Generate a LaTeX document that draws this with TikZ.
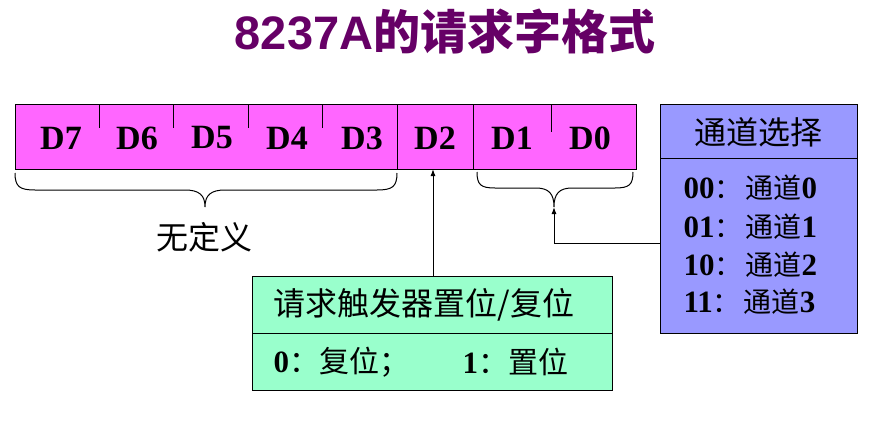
\documentclass[tikz,border=0pt]{standalone}
\usepackage{fontspec}
\setmainfont{Liberation Serif}
\newfontfamily\cjk{Noto Sans CJK SC}
\newfontfamily\titlesans{Liberation Sans}
\usetikzlibrary{arrows.meta}
\definecolor{regfill}{RGB}{255,102,255}
\definecolor{chanfill}{RGB}{153,153,255}
\definecolor{reqfill}{RGB}{153,255,204}
\definecolor{titlecol}{RGB}{102,0,102}
\newcommand{\cjkline}[1]{{\fontsize{28}{28}\selectfont\cjk\mdseries #1}}
\newcommand{\cjkreq}[1]{{\fontsize{30}{30}\selectfont\cjk\mdseries #1}}
\begin{document}
\begin{tikzpicture}[x=1pt,y=-1pt,line width=1pt,
  box/.style={draw,inner sep=0pt,anchor=north west},
  bitlabel/.style={font=\fontsize{34}{34}\selectfont\bfseries,inner sep=0pt},
  cjklabel/.style={font=\fontsize{32}{32}\selectfont\cjk,inner sep=0pt},
  chanline/.style={font=\fontsize{31}{31}\selectfont\bfseries,inner sep=0pt,anchor=west},
  arr/.style={-{Latex[length=7pt,width=5pt]}}]
\useasboundingbox (0,0) rectangle (892,428);
% title
\node[text=titlecol,inner sep=0pt,font=\fontsize{47}{47}\selectfont] (title) at (445,31)
  {\titlesans\bfseries 8237A{\cjk 的请求字格式}};
% register
\node[box,fill=regfill,minimum width=621pt,minimum height=65pt] (reg) at (15,104) {};
\foreach \x in {99,173,248,322} \draw (\x,104) -- (\x,128);
\draw (551,104) -- (551,132);
\draw (397,104) -- (397,169);
\draw (473,104) -- (473,169);
\node[bitlabel] (d7) at (61,138) {D7};
\node[bitlabel] (d6) at (137,138) {D6};
\node[bitlabel] (d5) at (212,138) {D5};
\node[bitlabel] (d4) at (287,138) {D4};
\node[bitlabel] (d3) at (362,138) {D3};
\node[bitlabel] (d2) at (435,138) {D2};
\node[bitlabel] (d1) at (512,138) {D1};
\node[bitlabel] (d0) at (590,138) {D0};
% left brace
\draw (15,173) .. controls (15,187) and (20,190) .. (35,190) -- (185,190)
  .. controls (199,190) and (205,195) .. (205,207)
  .. controls (205,195) and (211,190) .. (225,190) -- (377,190)
  .. controls (392,190) and (397,187) .. (397,173);
\node[cjklabel] (undef) at (204,237) {无定义};
% right brace
\coordinate (brtip) at (554,207);
\draw (477,172) .. controls (477,185) and (481,188) .. (495,188) -- (536,188)
  .. controls (549,188) and (554,194) .. (brtip)
  .. controls (554,194) and (559,188) .. (572,188) -- (615,188)
  .. controls (629,188) and (633,185) .. (633,172);
% channel box
\node[box,fill=chanfill,minimum width=197pt,minimum height=229pt] (chan) at (660,104) {};
\draw (660,158) -- (857,158);
\node[cjklabel] (chantitle) at (758,132) {通道选择};
\node[chanline] (c0) at (683,188) {00\cjkline{：}\hspace{3pt}\cjkline{通道}0};
\node[chanline] (c1) at (683,227) {01\cjkline{：}\hspace{3pt}\cjkline{通道}1};
\node[chanline] (c2) at (683,265) {10\cjkline{：}\hspace{3pt}\cjkline{通道}2};
\node[chanline] (c3) at (683,302) {11\cjkline{：}\hspace{3pt}\cjkline{通道}3};
\coordinate (chanin) at (660,243);
\draw[arr] (chanin) -| (brtip);
% request box
\node[box,fill=reqfill,minimum width=360pt,minimum height=114pt] (req) at (252,276) {};
\draw (252,333) -- (612,333);
\node[cjklabel,anchor=west] (reqtitle) at (273,305) {请求触发器置位/复位};
\node[chanline] (r0) at (273,362) {0\cjkreq{：复位；}};
\node[chanline] (r1) at (462,362) {1\cjkreq{：置位}};
\coordinate (d2in) at (433,169);
\coordinate (reqout) at (433,276);
\draw[arr] (reqout) -- (d2in);
\end{tikzpicture}
\end{document}
